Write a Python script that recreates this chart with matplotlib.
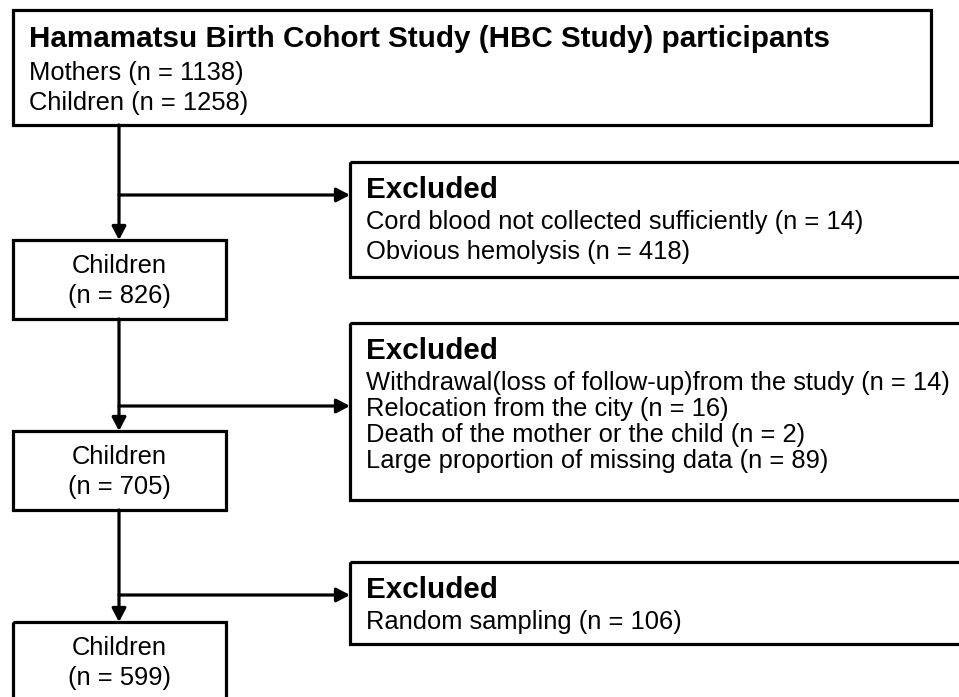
import matplotlib.pyplot as plt
from matplotlib.patches import Rectangle

plt.rcParams['font.family'] = ['Liberation Sans', 'DejaVu Sans']

# data
cohort_title = 'Hamamatsu Birth Cohort Study (HBC Study) participants'
cohort_groups = ['Mothers', 'Children']
cohort_counts = [1138, 1258]
retained_counts = [826, 705, 599]
excluded_reasons = [
    ['Cord blood not collected sufficiently', 'Obvious hemolysis'],
    ['Withdrawal(loss of follow-up)from the study', 'Relocation from the city',
     'Death of the mother or the child', 'Large proportion of missing data'],
    ['Random sampling'],
]
excluded_counts = [[14, 418], [14, 16, 2, 89], [106]]

# layout (pixels, y down)
main_x = 119
child_left, child_right = 13, 226
child_tops = [240, 431, 622]
child_h = 79
excl_left = 350
excl_tops = [162, 323, 562]
excl_bottoms = [277, 500, 644]
excl_gap = [30, 26, 30]
branch_y = [195, 406, 595]
lw = 2.3
head_size = 21.3
body_size = 18.4

fig = plt.figure(figsize=(9.59, 6.97), dpi=100)
ax = fig.add_axes([0, 0, 1, 1])
ax.set_xlim(0, 959)
ax.set_ylim(697, 0)
ax.axis('off')


def box(x0, y0, x1, y1):
    ax.add_patch(Rectangle((x0, y0), x1 - x0, y1 - y0, fill=False,
                           edgecolor='black', lw=lw, joinstyle='miter'))


def arrow(x0, y0, x1, y1):
    ax.annotate('', xy=(x1, y1), xytext=(x0, y0),
                arrowprops=dict(arrowstyle='-|>,head_length=0.8,head_width=0.42',
                                mutation_scale=10, lw=lw, color='black',
                                shrinkA=0, shrinkB=0))


# top box
box(13, 10, 931, 125)
ax.text(29, 47, cohort_title, fontsize=head_size, fontweight='bold', va='baseline')
for i, (g, n) in enumerate(zip(cohort_groups, cohort_counts)):
    ax.text(29, 80 + 30 * i, f'{g} (n = {n})', fontsize=body_size, va='baseline')

# retained boxes and main flow
prev_bottom = 125
for top, n, by in zip(child_tops, retained_counts, branch_y):
    arrow(main_x, prev_bottom, main_x, top)
    arrow(main_x, by, excl_left, by)
    bottom = top + child_h if top + child_h < 697 else 710
    box(child_left, top, child_right, bottom)
    ax.text(main_x, top + 33, 'Children', fontsize=body_size, ha='center', va='baseline')
    ax.text(main_x, top + 63, f'(n = {n})', fontsize=body_size, ha='center', va='baseline')
    prev_bottom = top + child_h

# excluded boxes
for top, bot, gap, reasons, counts in zip(excl_tops, excl_bottoms, excl_gap,
                                          excluded_reasons, excluded_counts):
    box(excl_left, top, 975, bot)
    ax.text(366, top + 36, 'Excluded', fontsize=head_size, fontweight='bold', va='baseline')
    for i, (r, n) in enumerate(zip(reasons, counts)):
        ax.text(366, top + 36 + 31 + gap * i, f'{r} (n = {n})', fontsize=body_size,
                va='baseline')

fig.savefig('out.png', dpi=100)
